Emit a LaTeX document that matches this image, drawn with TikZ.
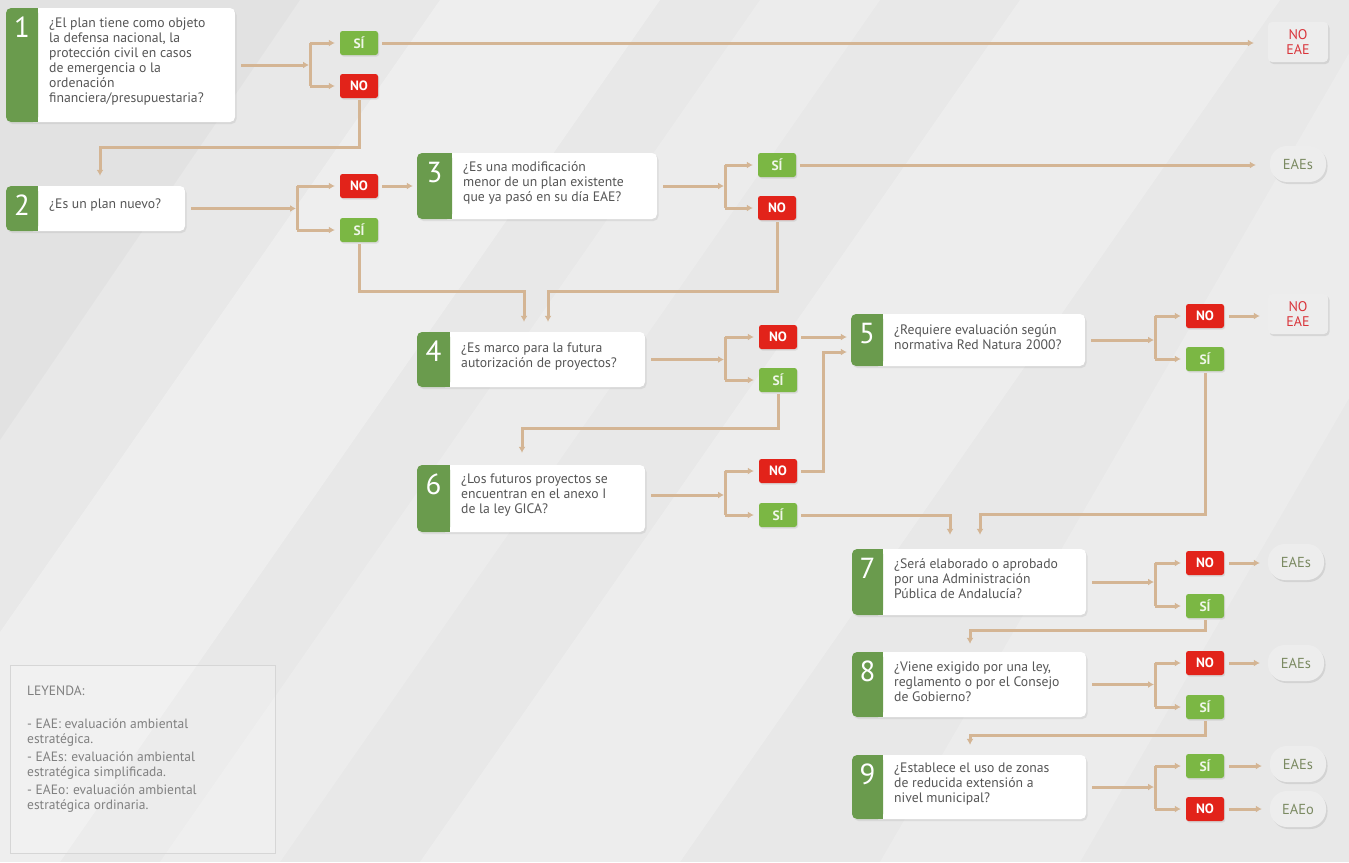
\documentclass[tikz,border=0pt]{standalone}
\usepackage{fontspec}
\setmainfont{PT Sans}
\usetikzlibrary{arrows.meta,shadows,calc}
\definecolor{bg}{HTML}{E8E8E8}
\definecolor{qgreen}{HTML}{6A9B4D}
\definecolor{sigreen}{HTML}{7BB744}
\definecolor{nored}{HTML}{E2231A}
\definecolor{conn}{HTML}{D4B594}
\definecolor{qtextc}{HTML}{555555}
\definecolor{restext}{HTML}{7B8A62}
\definecolor{resred}{HTML}{D9353B}
\definecolor{legtext}{HTML}{808080}
\definecolor{resfill}{HTML}{EDEDED}
\tikzset{
 qbox/.style={fill=white, rounded corners=5pt, inner sep=0pt, drop shadow={opacity=0.15,shadow xshift=1.5pt,shadow yshift=-2pt}},
 qtxt/.style={font=\fontsize{13.7}{15}\selectfont, text=qtextc, align=left, inner sep=0pt, anchor=west},
 qnum/.style={font=\fontsize{29}{29}\selectfont, text=white, inner sep=0pt, anchor=north},
 btn/.style={minimum width=38pt, minimum height=24pt, inner sep=0pt, rounded corners=2.5pt, font=\fontsize{13.5}{13.5}\selectfont\bfseries, drop shadow={opacity=0.18,shadow xshift=1pt,shadow yshift=-1.5pt}},
 btnsi/.style={btn, fill=sigreen, text=white!88!sigreen},
 btnno/.style={btn, fill=nored, text=white},
 resbox/.style={fill=resfill, rounded corners=4pt, minimum width=60pt, minimum height=40pt, inner sep=0pt, font=\fontsize{14}{15}\selectfont, text=resred, align=center, drop shadow={opacity=0.2,shadow xshift=1.5pt,shadow yshift=-2pt}},
 respill/.style={fill=resfill, rounded corners=17pt, minimum width=56pt, minimum height=36pt, inner sep=0pt, font=\fontsize{14.5}{15}\selectfont, text=restext, drop shadow={opacity=0.2,shadow xshift=1.5pt,shadow yshift=-2pt}},
 link/.style={draw=conn, line width=3pt},
 arr/.style={link, -{Latex[length=6pt,width=7pt]}},
}
\newcommand\qnode[8]{%
 \node[qbox, minimum width={#6-#3}, minimum height={#7-#4}] (#1) at ({(#3+#6)/2},{(#4+#7)/2}) {};
 \fill[qgreen, rounded corners=5pt] (#3,#4) rectangle (#5,#7);
 \fill[qgreen] ({#5-6},#4) rectangle (#5,#7);
 \node[qnum] (#1n) at ({(#3+#5)/2},{#4+9}) {#2};
 \node[qtxt] (#1t) at ({#5+11},{(#4+#7)/2-3}) {#8};
}
\begin{document}
\begin{tikzpicture}[x=1pt,y=-1pt]
\useasboundingbox (0,0) rectangle (1349,862);
\fill[bg] (0,0) rectangle (1349,862);
\begin{scope}
\clip (0,0) rectangle (1349,862);
\fill[white,opacity=0.3] (-160,862) -- (60,862) -- (660,0) -- (440,0) -- cycle;
\fill[white,opacity=0.2] (160,862) -- (280,862) -- (880,0) -- (760,0) -- cycle;
\fill[white,opacity=0.25] (420,862) -- (680,862) -- (1280,0) -- (1020,0) -- cycle;
\fill[white,opacity=0.2] (880,862) -- (1080,862) -- (1580,0) -- (1380,0) -- cycle;
\fill[black,opacity=0.025] (0,440) -- (300,0) -- (0,0) -- cycle;
\end{scope}

% legend
\node[draw=black!16, fill=white, fill opacity=0.2, line width=0.8pt, minimum width=265pt, minimum height=188pt, inner sep=0pt] (leg) at (142.5,759) {};
\node[anchor=north west, inner sep=0pt, text=legtext, font=\fontsize{13.5}{15}\selectfont, align=left] (legt) at (27,686) {LEYENDA:\\[18pt]
- EAE: evaluación ambiental\\ estratégica.\\[3pt]
- EAEs: evaluación ambiental\\ estratégica simplificada.\\[3pt]
- EAEo: evaluación ambiental\\ estratégica ordinaria.};

% question boxes
\qnode{q1}{1}{6}{8}{38}{235}{122}{¿El plan tiene como objeto\\la defensa nacional, la\\protección civil en casos\\de emergencia o la\\ordenación\\financiera/presupuestaria?}
\qnode{q2}{2}{6}{186}{38}{185}{231}{¿Es un plan nuevo?}
\qnode{q3}{3}{417}{153}{452}{657}{219}{¿Es una modificación\\menor de un plan existente\\que ya pasó en su día EAE?}
\qnode{q4}{4}{417}{332}{450}{645}{387}{¿Es marco para la futura\\autorización de proyectos?}
\qnode{q5}{5}{851}{314}{883}{1085}{366}{¿Requiere evaluación según\\normativa Red Natura 2000?}
\qnode{q6}{6}{417}{465}{450}{645}{532}{¿Los futuros proyectos se\\encuentran en el anexo I\\de la ley GICA?}
\qnode{q7}{7}{852}{549}{883}{1086}{615}{¿Será elaborado o aprobado\\por una Administración\\Pública de Andalucía?}
\qnode{q8}{8}{852}{652}{883}{1086}{717}{¿Viene exigido por una ley,\\reglamento o por el Consejo\\de Gobierno?}
\qnode{q9}{9}{852}{755}{883}{1086}{819}{¿Establece el uso de zonas\\de reducida extensión a\\nivel municipal?}

% buttons
\node[btnsi] (s1) at (359,43) {SÍ};
\node[btnno] (n1) at (359,86) {NO};
\node[btnno] (n2) at (359,186) {NO};
\node[btnsi] (s2) at (359,230) {SÍ};
\node[btnsi] (s3) at (777,165) {SÍ};
\node[btnno] (n3) at (777,208) {NO};
\node[btnno] (n4) at (778,337) {NO};
\node[btnsi] (s4) at (778,380) {SÍ};
\node[btnno] (n6) at (778,471) {NO};
\node[btnsi] (s6) at (778,515) {SÍ};
\node[btnno] (n5) at (1205,316) {NO};
\node[btnsi] (s5) at (1205,359) {SÍ};
\node[btnno] (n7) at (1205,563) {NO};
\node[btnsi] (s7) at (1205,606) {SÍ};
\node[btnno] (n8) at (1205,663) {NO};
\node[btnsi] (s8) at (1205,707) {SÍ};
\node[btnsi] (s9) at (1205,766) {SÍ};
\node[btnno] (n9) at (1205,809) {NO};

% results
\node[resbox] (r1) at (1298,42) {NO\\EAE};
\node[respill] (r3) at (1298,164) {EAEs};
\node[resbox] (r5) at (1298,314) {NO\\EAE};
\node[respill] (r7) at (1296,562) {EAEs};
\node[respill] (r8) at (1296,663) {EAEs};
\node[respill] (r9s) at (1298,764) {EAEs};
\node[respill] (r9n) at (1298,809) {EAEo};

% brackets
\coordinate (b1) at (310,65);
\coordinate (b2) at (297,208.5);
\coordinate (b3) at (725,186);
\coordinate (b4) at (725,359.5);
\coordinate (b6) at (725,495);
\coordinate (b5) at (1155,340);
\coordinate (b7) at (1155,582);
\coordinate (b8) at (1155,684.5);
\coordinate (b9) at (1155,787);
\foreach \q/\b/\u/\d in {q1/b1/s1/n1, q2/b2/n2/s2, q3/b3/s3/n3, q4/b4/n4/s4, q6/b6/n6/s6, q5/b5/n5/s5, q7/b7/n7/s7, q8/b8/n8/s8, q9/b9/s9/n9}{
  \draw[arr, shorten <=6pt, shorten >=1pt] (\q.east |- \b) -- (\b);
  \draw[link] (\u -| \b) -- (\d -| \b);
  \draw[arr, shorten >=5pt] (\u -| \b) -- (\u.west);
  \draw[arr, shorten >=5pt] (\d -| \b) -- (\d.west);
}

% outcomes
\draw[arr, shorten <=4pt, shorten >=14pt] (s1.east) -- (s1.east -| r1.west);
\draw[arr, shorten <=4pt, shorten >=14pt] (s3.east) -- (s3.east -| r3.west);
\draw[arr, shorten <=5pt, shorten >=8pt] (n5.east) -- (n5.east -| r5.west);
\draw[arr, shorten <=5pt, shorten >=8pt] (n7.east) -- (n7.east -| r7.west);
\draw[arr, shorten <=5pt, shorten >=8pt] (n8.east) -- (n8.east -| r8.west);
\draw[arr, shorten <=5pt, shorten >=8pt] (s9.east) -- (s9.east -| r9s.west);
\draw[arr, shorten <=5pt, shorten >=8pt] (n9.east) -- (n9.east -| r9n.west);

% flow between questions
\coordinate (c1) at (100,147);
\draw[arr, shorten <=2pt, shorten >=10pt] (n1.south) |- (c1) -- (c1 |- q2.north);
\draw[arr, shorten <=4pt, shorten >=4pt] (n2.east) -- (n2.east -| q3.west);
\coordinate (c2) at (524,291);
\draw[arr, shorten <=2pt, shorten >=10pt] (s2.south) |- (c2) -- (c2 |- q4.north);
\coordinate (c3) at (548,291);
\draw[arr, shorten <=2pt, shorten >=10pt] (n3.south) |- (c3) -- (c3 |- q4.north);
\coordinate (c4) at (522,428);
\draw[arr, shorten <=2pt, shorten >=12pt] (s4.south) |- (c4) -- (c4 |- q6.north);
\draw[arr, shorten <=4pt, shorten >=4pt] (n4.east) -- (n4.east -| q5.west);
\coordinate (c6) at (823,352);
\draw[arr, shorten <=4pt, shorten >=4pt] (n6.east) -| (c6) -- (c6 -| q5.west);
\coordinate (c6b) at (950,515);
\draw[arr, shorten <=4pt, shorten >=14pt] (s6.east) -- (c6b) -- (c6b |- q7.north);
\coordinate (c5) at (980,514);
\draw[arr, shorten <=2pt, shorten >=14pt] (s5.south) |- (c5) -- (c5 |- q7.north);
\coordinate (c7) at (970,630);
\draw[arr, shorten <=2pt, shorten >=8pt] (s7.south) |- (c7) -- (c7 |- q8.north);
\coordinate (c8) at (970,735);
\draw[arr, shorten <=2pt, shorten >=10pt] (s8.south) |- (c8) -- (c8 |- q9.north);
\end{tikzpicture}
\end{document}
